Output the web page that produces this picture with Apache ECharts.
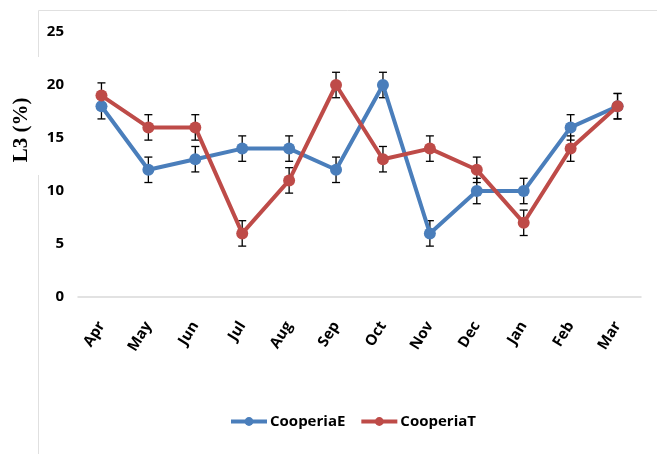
<!DOCTYPE html>
<html><head><meta charset="utf-8">
<script src="https://cdn.jsdelivr.net/npm/echarts@6/dist/echarts.min.js"></script>
<style>html,body{margin:0;padding:0;background:#fff}#c{width:657px;height:454px}</style>
</head><body><div id="c"></div>
<script>
const months = ['Apr','May','Jun','Jul','Aug','Sep','Oct','Nov','Dec','Jan','Feb','Mar'];
const cooperiaE = [18,12,13,14,14,12,20,6,10,10,16,18];
const cooperiaT = [19,16,16,6,11,20,13,14,12,7,14,18];
const errE = [1.2,1.2,1.2,1.2,1.2,1.2,1.2,1.2,1.2,1.2,1.2,1.2];
const errT = [1.2,1.2,1.2,1.2,1.2,1.2,1.2,1.2,1.2,1.2,1.2,1.2];
const yTicks = [0,5,10,15,20,25];

function errSeries(vals, errs){
  return {
    type:'custom', silent:true, z:1,
    data: vals.map((v,i)=>[i, v-errs[i], v+errs[i]]),
    renderItem:function(params, api){
      const lo = api.coord([api.value(0), api.value(1)]);
      const hi = api.coord([api.value(0), api.value(2)]);
      const w = 4;
      const st = {stroke:'#000', lineWidth:1.3};
      return {type:'group', children:[
        {type:'line', shape:{x1:lo[0],y1:lo[1],x2:hi[0],y2:hi[1]}, style:st},
        {type:'line', shape:{x1:lo[0]-w,y1:lo[1],x2:lo[0]+w,y2:lo[1]}, style:st},
        {type:'line', shape:{x1:hi[0]-w,y1:hi[1],x2:hi[0]+w,y2:hi[1]}, style:st}
      ]};
    }
  };
}

const chart = echarts.init(document.getElementById('c'));
chart.setOption({
  animation:false,
  graphic:[
    {type:'line', shape:{x1:38.5,y1:10.5,x2:657,y2:10.5}, style:{stroke:'#e0e0e0',lineWidth:1}},
    {type:'line', shape:{x1:38.5,y1:10.5,x2:38.5,y2:57}, style:{stroke:'#e0e0e0',lineWidth:1}},
    {type:'line', shape:{x1:38.5,y1:175,x2:38.5,y2:454}, style:{stroke:'#e0e0e0',lineWidth:1}},
    {type:'text', x:22, y:130, rotation:Math.PI/2, style:{text:'L3 (%)', font:'bold 21px "Liberation Serif", "DejaVu Serif", serif', fill:'#000', align:'center', verticalAlign:'middle'}}
  ],
  grid:{left:78, right:16, top:32, bottom:157},
  legend:{
    bottom:20, left:224, itemGap:14, itemWidth:36, itemHeight:11,
    lineStyle:{width:4},
    textStyle:{fontSize:15, fontWeight:'bold', color:'#000', fontFamily:'"Open Sans", Arial, sans-serif', padding:[0,0,0,-2]},
    data:['CooperiaE','CooperiaT']
  },
  xAxis:{
    type:'category', data:months, boundaryGap:true,
    axisLine:{lineStyle:{color:'#d9d9d9', width:1.5}},
    axisTick:{show:false},
    axisLabel:{rotate:58, fontSize:15, fontWeight:'bold', color:'#000', margin:26, interval:0, fontFamily:'"Open Sans", Arial, sans-serif'}
  },
  yAxis:{
    type:'value', min:0, max:25, interval:5,
    axisLine:{show:false}, axisTick:{show:false}, splitLine:{show:false},
    axisLabel:{fontSize:15, fontWeight:'bold', color:'#000', margin:14, fontFamily:'"Open Sans", Arial, sans-serif'}
  },
  series:[
    {name:'CooperiaE', type:'line', data:cooperiaE, symbol:'circle', symbolSize:12, z:2,
     lineStyle:{color:'#4a7ebb', width:4}, itemStyle:{color:'#4a7ebb'}},
    {name:'CooperiaT', type:'line', data:cooperiaT, symbol:'circle', symbolSize:12, z:3,
     lineStyle:{color:'#be4b48', width:4}, itemStyle:{color:'#be4b48'}},
    errSeries(cooperiaE, errE),
    errSeries(cooperiaT, errT)
  ]
});
</script></body></html>
